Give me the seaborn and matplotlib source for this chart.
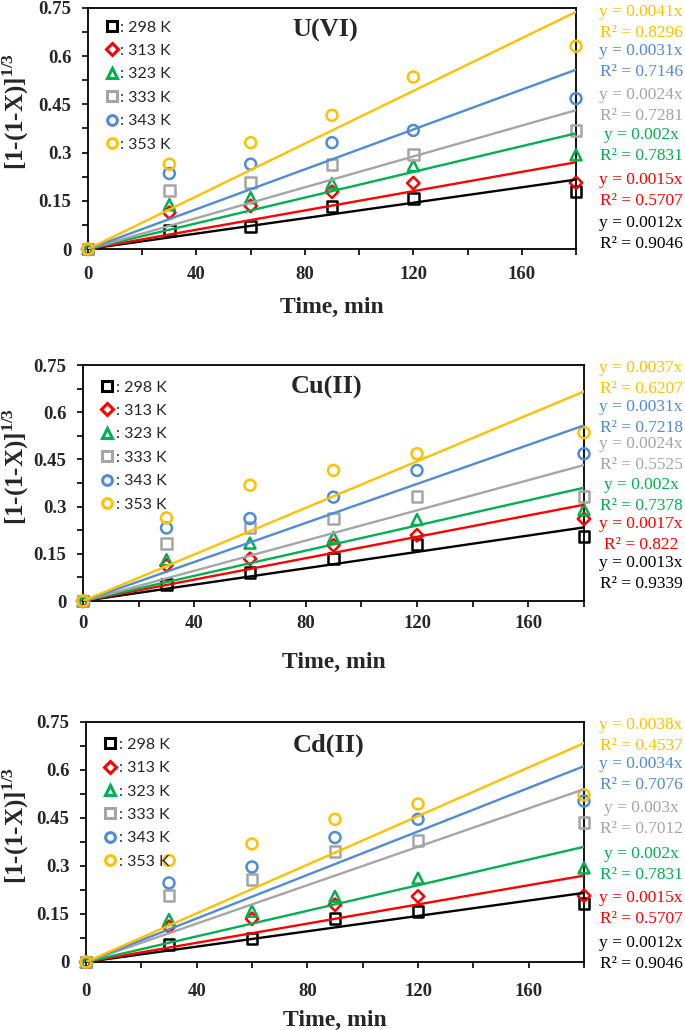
import numpy as np
import pandas as pd
import matplotlib
matplotlib.use('Agg')
import matplotlib.pyplot as plt
import seaborn as sns
from matplotlib.lines import Line2D

# data
time_min = [0, 30, 60, 90, 120, 180]
temps = ['298 K', '313 K', '323 K', '333 K', '343 K', '353 K']
ions = ['U(VI)', 'Cu(II)', 'Cd(II)']

u_vi = [
    [0, 0.057, 0.069, 0.132, 0.157, 0.179],
    [0, 0.113, 0.134, 0.178, 0.205, 0.206],
    [0, 0.138, 0.160, 0.204, 0.259, 0.293],
    [0, 0.181, 0.207, 0.264, 0.295, 0.370],
    [0, 0.235, 0.264, 0.331, 0.369, 0.468],
    [0, 0.264, 0.331, 0.416, 0.535, 0.631],
]
cu_ii = [
    [0, 0.051, 0.091, 0.134, 0.181, 0.205],
    [0, 0.113, 0.134, 0.177, 0.209, 0.261],
    [0, 0.131, 0.184, 0.202, 0.259, 0.290],
    [0, 0.182, 0.234, 0.262, 0.331, 0.331],
    [0, 0.232, 0.262, 0.330, 0.415, 0.468],
    [0, 0.264, 0.368, 0.415, 0.468, 0.535],
]
cd_ii = [
    [0, 0.055, 0.073, 0.135, 0.159, 0.182],
    [0, 0.110, 0.135, 0.179, 0.205, 0.207],
    [0, 0.133, 0.159, 0.205, 0.262, 0.294],
    [0, 0.207, 0.257, 0.345, 0.380, 0.436],
    [0, 0.247, 0.297, 0.389, 0.446, 0.503],
    [0, 0.317, 0.369, 0.446, 0.494, 0.522],
]

u_slopes = [0.0012, 0.0015, 0.002, 0.0024, 0.0031, 0.0041]
u_r2 = ['0.9046', '0.5707', '0.7831', '0.7281', '0.7146', '0.8296']
cu_slopes = [0.0013, 0.0017, 0.002, 0.0024, 0.0031, 0.0037]
cu_r2 = ['0.9339', '0.822', '0.7378', '0.5525', '0.7218', '0.6207']
cd_slopes = [0.0012, 0.0015, 0.002, 0.003, 0.0034, 0.0038]
cd_r2 = ['0.9046', '0.5707', '0.7831', '0.7012', '0.7076', '0.4537']

x_ticks = [0, 40, 80, 120, 160]
y_ticks = [0, 0.15, 0.3, 0.45, 0.6, 0.75]
y_tick_labels = ['0', '0.15', '0.3', '0.45', '0.6', '0.75']

# styles
colors = ['#000000', '#FF0000', '#00B050', '#A5A5A5', '#4F8BD6', '#FFC000']
markers = ['s', 'D', '^', 's', 'o', 'o']
msizes = [62, 40, 62, 62, 62, 62]

sns.set_theme(style='ticks')
plt.rcParams['font.family'] = ['Liberation Serif', 'DejaVu Serif']
plt.rcParams['mathtext.fontset'] = 'custom'
plt.rcParams['mathtext.rm'] = 'Liberation Serif'
plt.rcParams['mathtext.bf'] = 'Liberation Serif:bold'

W, H = 685, 1030
fig = plt.figure(figsize=(6.85, 10.3), dpi=100)

# axes boxes in pixels: left, top, right, bottom
boxes = [(88, 8, 576, 249), (83, 365, 584, 601), (86, 722, 584, 962)]
tick_pads = [8.5, 6.3, 11.0]
label_pads = [9.5, 14.0, 7.5]
legend_top = [0.975, 0.962, 0.962]
# pixel y of the "y = ..." line of each trendline label (298 K .. 353 K)
eq_y = [
    [223, 180, 135, 95, 51, 12],
    [563, 524, 485, 444, 407, 368],
    [943, 898, 854, 808, 764, 725],
]

panels = [(u_vi, u_slopes, u_r2), (cu_ii, cu_slopes, cu_r2), (cd_ii, cd_slopes, cd_r2)]

for p, (vals, slopes, r2s) in enumerate(panels):
    l, t, r, b = boxes[p]
    ax = fig.add_axes([l / W, 1 - b / H, (r - l) / W, (b - t) / H])

    df = pd.DataFrame({
        'time': np.tile(time_min, len(temps)),
        'value': np.concatenate(vals),
        'temp': np.repeat(temps, len(time_min)),
    })

    for i, temp in enumerate(temps):
        sub = df[df['temp'] == temp]
        sns.scatterplot(data=sub, x='time', y='value', ax=ax, marker=markers[i],
                        s=msizes[i], color=colors[i], facecolor='none',
                        edgecolor=colors[i], linewidth=1.8, clip_on=False,
                        zorder=3, legend=False)

    for i, temp in enumerate(temps):
        fit_x = np.array([time_min[0], time_min[-1]])
        sns.lineplot(x=fit_x, y=slopes[i] * fit_x, ax=ax, color=colors[i],
                     linewidth=1.7, zorder=4)

    ax.set_xlim(0, 180)
    ax.set_ylim(0, 0.75)
    ax.set_xticks(x_ticks)
    ax.set_xticks([20, 60, 100, 140, 180], minor=True)
    ax.set_yticks(y_ticks)
    ax.set_yticklabels(y_tick_labels)
    ax.set_yticks([0.075, 0.225, 0.375, 0.525, 0.675], minor=True)
    ax.tick_params(which='both', direction='out', length=4, width=1.2, color='black')
    ax.tick_params(axis='x', labelsize=13.5, pad=tick_pads[p])
    ax.tick_params(axis='y', labelsize=13.5, pad=8)
    for lab in ax.get_xticklabels() + ax.get_yticklabels():
        lab.set_fontweight('bold')
    for sp in ax.spines.values():
        sp.set_color('black')
        sp.set_linewidth(1.3)

    ax.set_xlabel('Time, min', fontsize=17, fontweight='bold', labelpad=label_pads[p])
    ax.set_ylabel(r'[1-(1-X)]$^{\mathbf{1/3}}$', fontsize=18, fontweight='bold')
    ax.yaxis.set_label_coords((31 - l) / (r - l), 0.57)

    ax.text(0.487, 0.905, ions[p], transform=ax.transAxes, ha='center', va='center',
            fontsize=19, fontweight='bold')

    handles = [Line2D([], [], marker=markers[i], linestyle='none', markerfacecolor='none',
                      markeredgecolor=colors[i], markeredgewidth=2.2,
                      markersize=7 if markers[i] != 'D' else 6)
               for i in range(len(temps))]
    ax.legend(handles, [': ' + t_ for t_ in temps], loc='upper left',
              bbox_to_anchor=(0.022, legend_top[p]), frameon=False, handlelength=0.8,
              handletextpad=0.15, labelspacing=0.58, borderaxespad=0,
              prop={'family': 'Lato', 'size': 11.5})

    for i in range(len(temps)):
        yy = eq_y[p][i]
        fig.text(641 / W, 1 - yy / H, 'y = ' + str(slopes[i]) + 'x', ha='center',
                 va='center', fontsize=12.5, color=colors[i])
        fig.text(641 / W, 1 - (yy + 21) / H, 'R\u00b2 = ' + r2s[i], ha='center',
                 va='center', fontsize=12.5, color=colors[i])

fig.savefig('out.png', dpi=100)
